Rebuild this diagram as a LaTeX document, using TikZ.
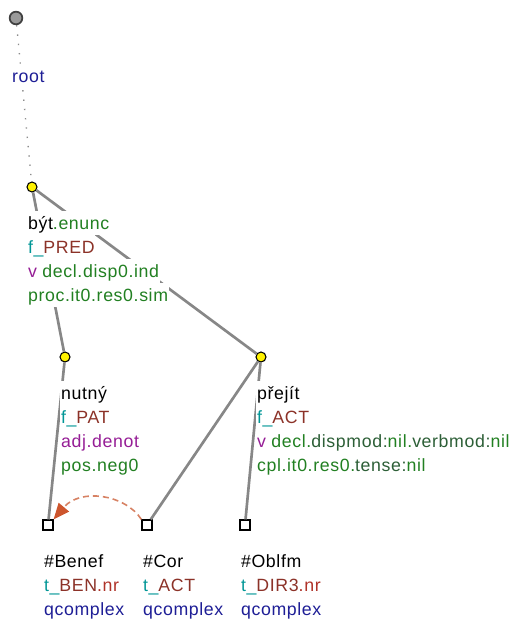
\documentclass[tikz,border=0pt]{standalone}
\usepackage{fontspec}
\setmainfont{Liberation Sans}[LetterSpace=3.5]
\usetikzlibrary{arrows.meta}
\definecolor{cgreen}{RGB}{34,128,34}
\definecolor{cdgreen}{RGB}{45,95,55}
\definecolor{cteal}{RGB}{0,150,150}
\definecolor{cbrown}{RGB}{140,50,40}
\definecolor{cred}{RGB}{175,50,40}
\definecolor{cpurple}{RGB}{150,30,150}
\definecolor{cnavy}{RGB}{30,30,150}
\definecolor{cedge}{RGB}{135,135,135}
\definecolor{carrow}{RGB}{205,85,45}
\definecolor{cdash}{RGB}{215,130,100}
\begin{document}
\begin{tikzpicture}[x=0.75pt,y=-0.75pt,
  font=\fontsize{13.3pt}{16pt}\selectfont,
  rootnode/.style={circle,draw=black!75,fill=black!40,line width=1.3pt,minimum size=9.5pt,inner sep=0pt},
  tnode/.style={circle,draw=black,fill=yellow,line width=0.8pt,minimum size=7.5pt,inner sep=0pt},
  qnode/.style={rectangle,draw=black,fill=white,line width=0.9pt,minimum size=7.5pt,inner sep=0pt},
  edge/.style={draw=cedge,line width=2pt},
  rootedge/.style={draw=black!45,line width=1pt,dash pattern=on 1pt off 6pt},
  lab/.style={anchor=base west,fill=white,inner xsep=0.6pt,inner ysep=0pt,text height=13.5pt,text depth=4.5pt},
  coref/.style={draw=cdash,line width=1.2pt,dash pattern=on 4.5pt off 3pt,
    -{Triangle[length=12pt,width=10pt,fill=carrow,color=carrow]}}]
\useasboundingbox (0,0) rectangle (514,624);
% tree nodes
\node[rootnode] (root) at (16,18) {};
\node[tnode] (byt) at (32,187) {};
\node[tnode] (nutny) at (65,357) {};
\node[tnode] (prejit) at (261,357) {};
\node[qnode] (benef) at (48,525) {};
\node[qnode] (cor) at (147,525) {};
\node[qnode] (oblfm) at (245,525) {};
% edges
\draw[rootedge] (root) -- (byt);
\draw[edge] (byt) -- (nutny);
\draw[edge] (byt) -- (prejit);
\draw[edge] (nutny) -- (benef);
\draw[edge] (prejit) -- (cor);
\draw[edge] (prejit) -- (oblfm);
\draw[coref] (cor.north west) .. controls (125,494) and (80,488) .. (benef.north east);
% labels
\node[lab] (rootl) at (11,83) {\textcolor{cnavy}{root}};
\node[lab] (byt1) at (27,229) {být\textcolor{cgreen}{.enunc}};
\node[lab] (byt2) at (27,253) {\textcolor{cteal}{f\_}\textcolor{cbrown}{PRED}};
\node[lab] (byt3) at (27,277) {\textcolor{cpurple}{v} \textcolor{cgreen}{decl.disp0.ind}};
\node[lab] (byt4) at (27,301) {\textcolor{cgreen}{proc.it0.res0.sim}};
\node[lab] (nut1) at (60,399) {nutný};
\node[lab] (nut2) at (60,423) {\textcolor{cteal}{f\_}\textcolor{cbrown}{PAT}};
\node[lab] (nut3) at (60,447) {\textcolor{cpurple}{adj.denot}};
\node[lab] (nut4) at (60,471) {\textcolor{cgreen}{pos.neg0}};
\node[lab] (pre1) at (256,399) {přejít};
\node[lab] (pre2) at (256,423) {\textcolor{cteal}{f\_}\textcolor{cbrown}{ACT}};
\node[lab] (pre3) at (256,447) {\textcolor{cpurple}{v} \textcolor{cgreen}{decl.}\textcolor{cdgreen}{dispmod:}\textcolor{cgreen}{nil.}\textcolor{cdgreen}{verbmod:}\textcolor{cgreen}{nil}};
\node[lab] (pre4) at (256,471) {\textcolor{cgreen}{cpl.it0.res0.}\textcolor{cdgreen}{tense:}\textcolor{cgreen}{nil}};
\node[lab] (ben1) at (43,567) {\#Benef};
\node[lab] (ben2) at (43,591) {\textcolor{cteal}{t\_}\textcolor{cbrown}{BEN}\textcolor{cred}{.nr}};
\node[lab] (ben3) at (43,615) {\textcolor{cnavy}{qcomplex}};
\node[lab] (cor1) at (142,567) {\#Cor};
\node[lab] (cor2) at (142,591) {\textcolor{cteal}{t\_}\textcolor{cbrown}{ACT}};
\node[lab] (cor3) at (142,615) {\textcolor{cnavy}{qcomplex}};
\node[lab] (obl1) at (240,567) {\#Oblfm};
\node[lab] (obl2) at (240,591) {\textcolor{cteal}{t\_}\textcolor{cbrown}{DIR3}\textcolor{cred}{.nr}};
\node[lab] (obl3) at (240,615) {\textcolor{cnavy}{qcomplex}};
\end{tikzpicture}
\end{document}
